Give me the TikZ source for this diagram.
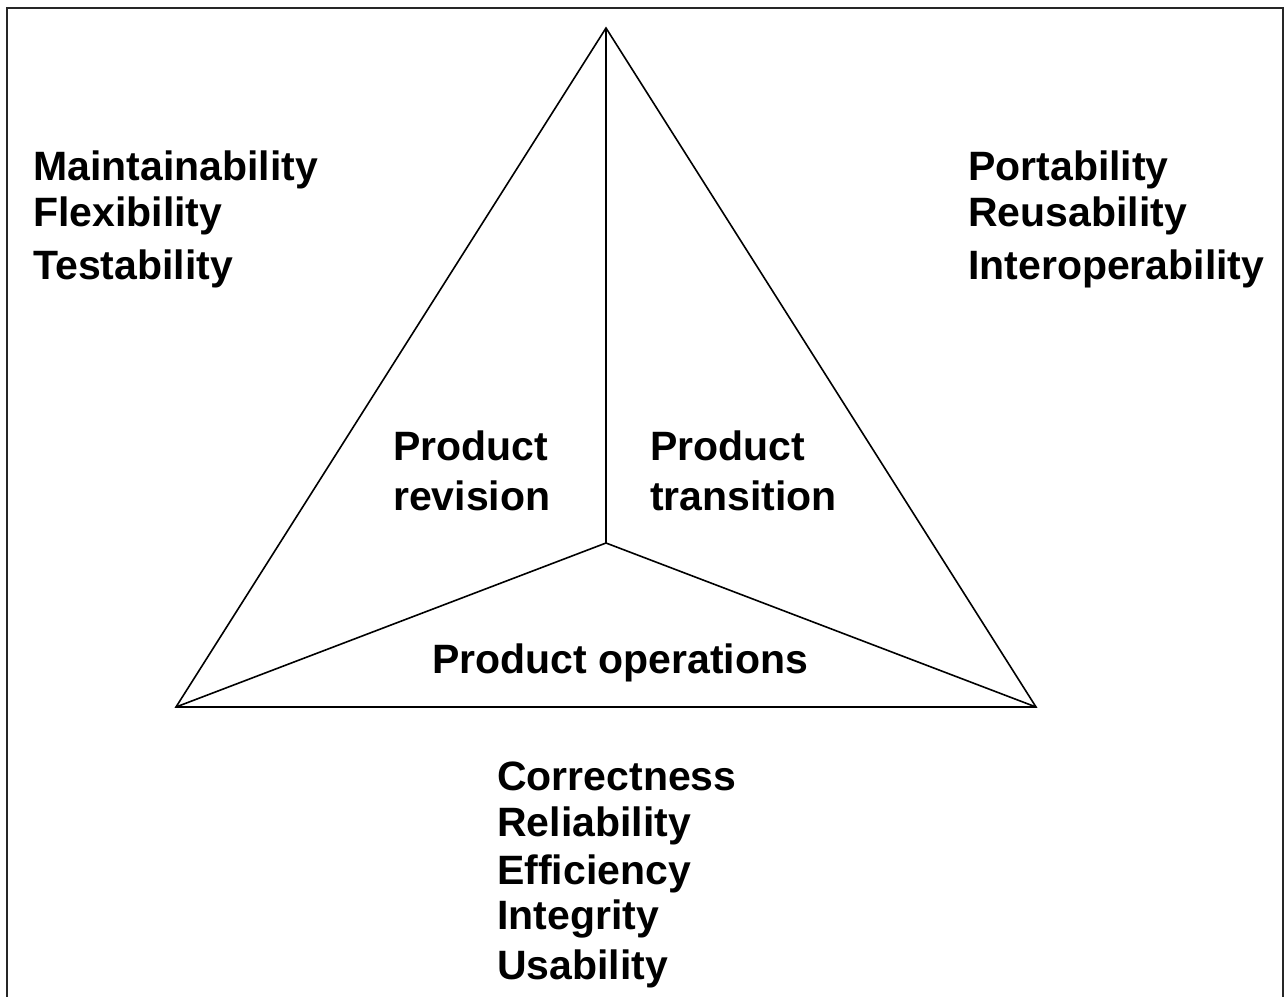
\documentclass[tikz,border=0pt]{standalone}
\usepackage{fontspec}
\setmainfont{Liberation Sans}
\begin{document}
\begin{tikzpicture}[x=1pt,y=-1pt,
  lbl/.style={anchor=base west,inner sep=0pt,font=\fontsize{41}{48}\selectfont\bfseries},
  edge/.style={draw=black,line width=1.6pt},
  frame/.style={draw=black!85,line width=2pt}]
\useasboundingbox (0,0) rectangle (1285,996);
\fill[white] (0,0) rectangle (1285,996);
\draw[frame] (7,1000) -- (7,8) -- (1283,8) -- (1283,1000);
\coordinate (top) at (606,28);
\coordinate (bl) at (176,707);
\coordinate (br) at (1036,707);
\coordinate (ctr) at (606,543);
\draw[edge,line join=miter] (top) -- (bl) -- (br) -- cycle;
\draw[edge] (top) -- (ctr);
\draw[edge] (bl) -- (ctr) -- (br);
\node[lbl] (m1) at (33,180) {Maintainability};
\node[lbl] (m2) at (33,226) {Flexibility};
\node[lbl] (m3) at (33,279) {Testability};
\node[lbl] (t1) at (968,180) {Portability};
\node[lbl] (t2) at (968,226) {Reusability};
\node[lbl] (t3) at (968,279) {Interoperability};
\node[lbl] (pr1) at (393,460) {Product};
\node[lbl] (pr2) at (393,510) {revision};
\node[lbl] (pt1) at (650,460) {Product};
\node[lbl] (pt2) at (650,510) {transition};
\node[lbl] (po) at (432,673) {Product operations};
\node[lbl] (o1) at (497,790) {Correctness};
\node[lbl] (o2) at (497,836) {Reliability};
\node[lbl] (o3) at (497,884) {Efficiency};
\node[lbl] (o4) at (497,929) {Integrity};
\node[lbl] (o5) at (497,979) {Usability};
\end{tikzpicture}
\end{document}
